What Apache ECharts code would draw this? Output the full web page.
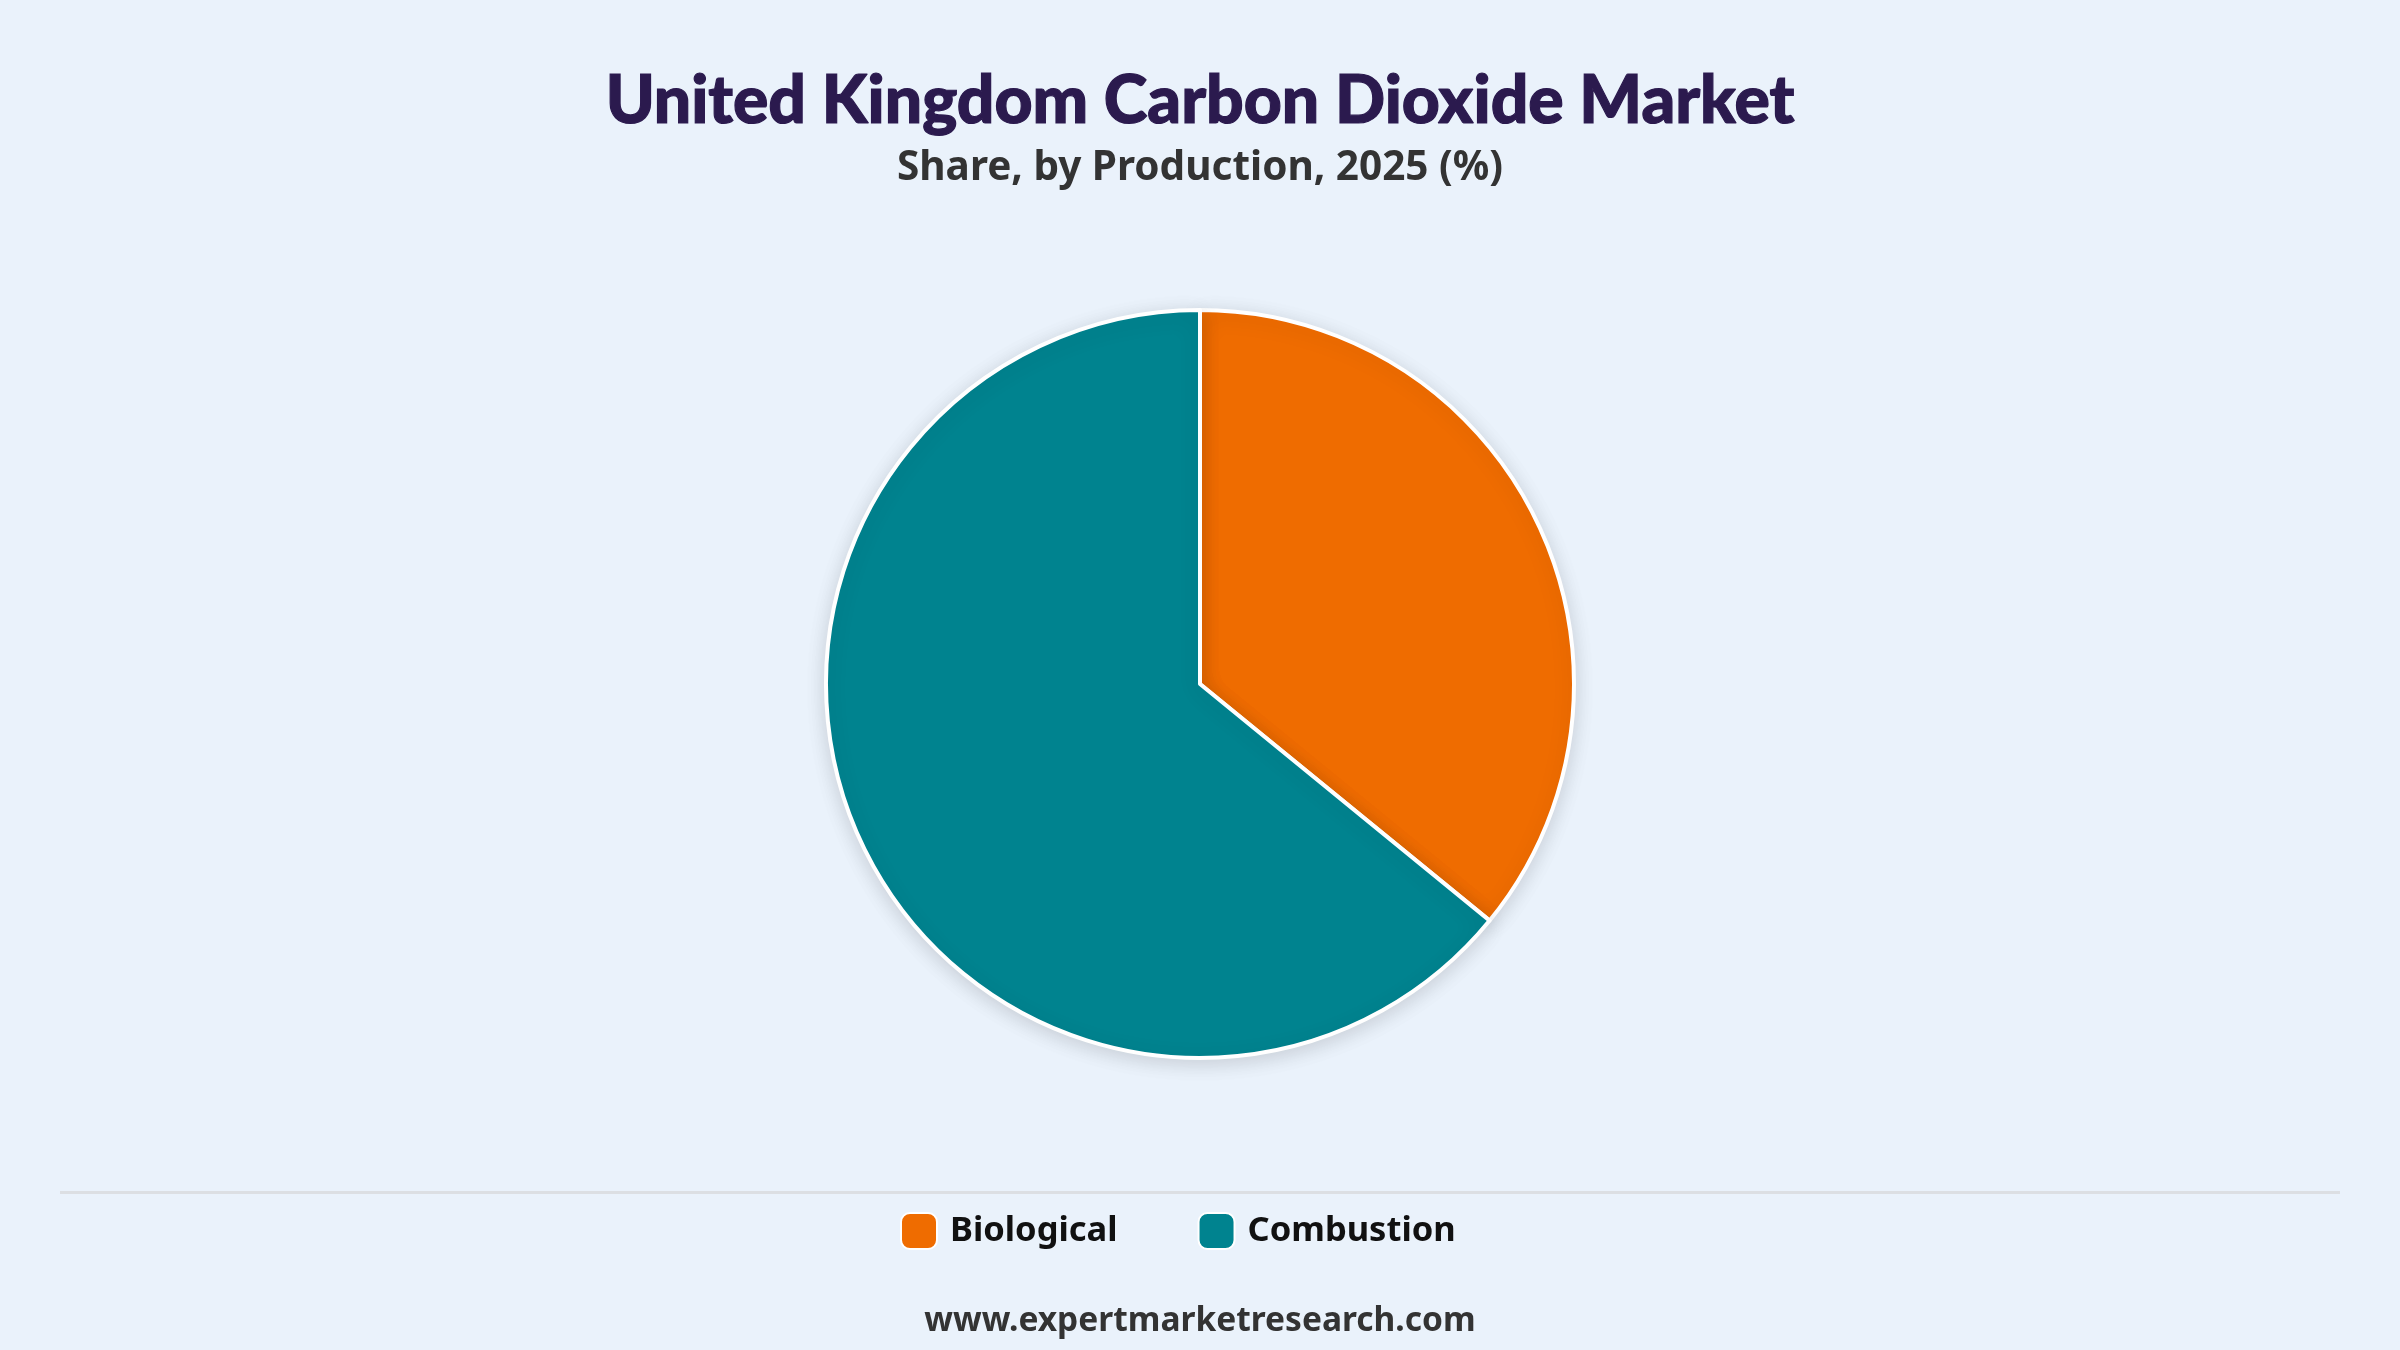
<!DOCTYPE html>
<html>
<head>
<meta charset="utf-8">
<script src="https://cdn.jsdelivr.net/npm/echarts@6/dist/echarts.min.js"></script>
<style>
html,body{margin:0;padding:0;background:#EAF2FB;}
#chart{width:2400px;height:1350px;}
</style>
</head>
<body>
<div id="chart"></div>
<script>
const categories = ['Biological', 'Combustion'];
const shares = [35.9, 64.1];
const colors = ['#EF6C00', '#00838F'];

const chart = echarts.init(document.getElementById('chart'), null, {renderer: 'canvas'});
chart.setOption({
  backgroundColor: '#EAF2FB',
  title: {
    text: 'United Kingdom Carbon Dioxide Market',
    subtext: 'Share, by Production, 2025 (%)',
    left: 'center',
    top: 64,
    itemGap: 12,
    textStyle: {fontFamily: 'Lato', fontWeight: 900, fontSize: 66, color: '#2B1A4E', textBorderColor: '#2B1A4E', textBorderWidth: 1.2},
    subtextStyle: {fontFamily: 'Noto Sans', fontWeight: 'bold', fontSize: 40.5, color: '#333333'}
  },
  legend: {
    bottom: 100,
    left: 900,
    padding: 0,
    itemWidth: 36,
    itemHeight: 36,
    itemGap: 80,
    icon: 'roundRect',
    textStyle: {fontFamily: 'Noto Sans', fontWeight: 'bold', fontSize: 34.5, color: '#111111', padding: [0, 0, 0, 8]},
    data: categories
  },
  graphic: [
    {type: 'rect', shape: {x: 60, y: 1191, width: 2280, height: 3}, style: {fill: '#DCDFE3'}, silent: true},
    {type: 'text', left: 'center', top: 1304, style: {text: 'www.expertmarketresearch.com', fontFamily: 'Noto Sans', fontWeight: 'bold', fontSize: 33.5, fill: '#333333'}}
  ],
  series: [{
    type: 'pie',
    center: [1200, 684],
    radius: 374,
    startAngle: 90,
    clockwise: true,
    label: {show: false},
    labelLine: {show: false},
    itemStyle: {borderColor: '#FFFFFF', borderWidth: 4, shadowBlur: 20, shadowOffsetY: 4, shadowColor: 'rgba(0,0,0,0.14)'},
    emphasis: {disabled: true},
    data: categories.map((c, i) => ({name: c, value: shares[i], itemStyle: {color: colors[i]}}))
  }]
});
</script>
</body>
</html>
